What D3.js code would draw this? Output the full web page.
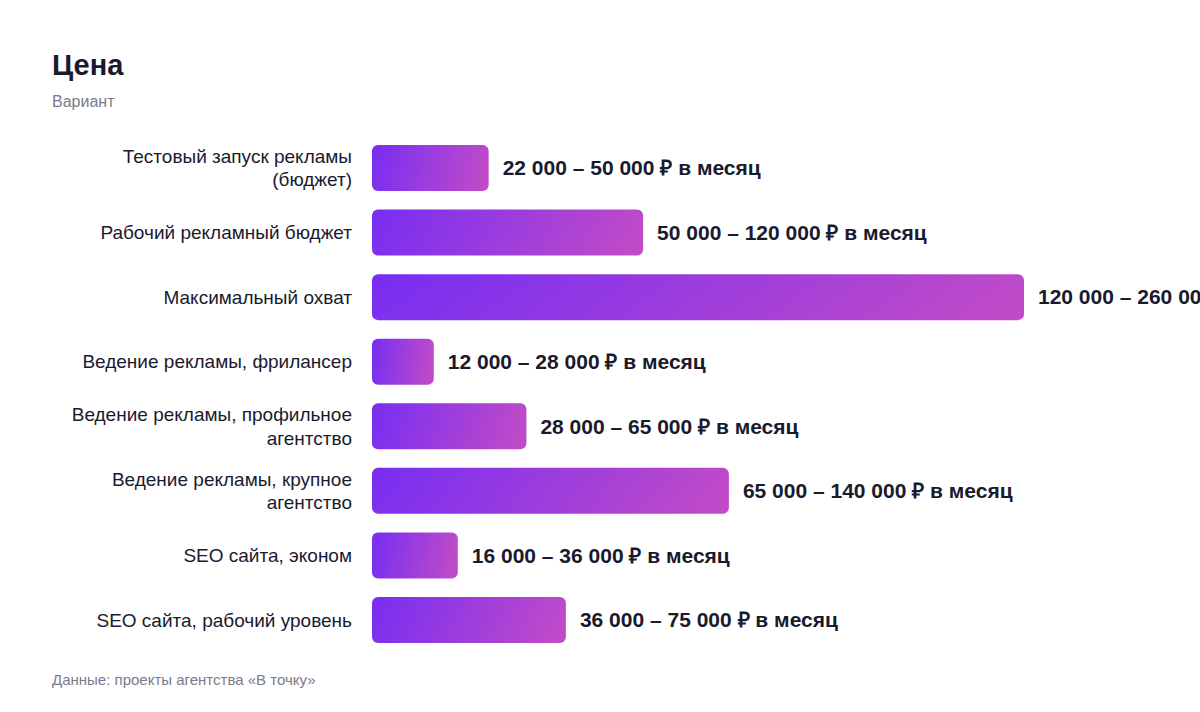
<!DOCTYPE html>
<html>
<head>
<meta charset="utf-8">
<script src="https://cdn.jsdelivr.net/npm/d3@7"></script>
<style>
  body { margin: 0; background: #fff; }
  svg text { font-family: "Liberation Sans", Arial, Helvetica, sans-serif; }
</style>
</head>
<body>
<div id="chart"></div>
<script>
// data
var categories = [
    ["Тестовый запуск рекламы", "(бюджет)"],
    ["Рабочий рекламный бюджет"],
    ["Максимальный охват"],
    ["Ведение рекламы, фрилансер"],
    ["Ведение рекламы, профильное", "агентство"],
    ["Ведение рекламы, крупное", "агентство"],
    ["SEO сайта, эконом"],
    ["SEO сайта, рабочий уровень"]
];
// bar length, thousand ₽
var barValues = [34, 79, 190, 18, 45, 104, 25, 56.5];
var rangeLabels = [
    "22 000 – 50 000 ₽ в месяц",
    "50 000 – 120 000 ₽ в месяц",
    "120 000 – 260 000 ₽ в месяц",
    "12 000 – 28 000 ₽ в месяц",
    "28 000 – 65 000 ₽ в месяц",
    "65 000 – 140 000 ₽ в месяц",
    "16 000 – 36 000 ₽ в месяц",
    "36 000 – 75 000 ₽ в месяц"
];
var title = "Цена";
var subtitle = "Вариант";
var source = "Данные: проекты агентства «В точку»";

function createFoundation(divSelector){
    var width = 1200, height = 712;
    var svg = d3.select(divSelector).append("svg")
        .attr("width", width)
        .attr("height", height);
    return {svg: svg, width: width, height: height};
}

function draw(foundation){
    var svg = foundation.svg;
    var left = 372;

    svg.append("text")
        .attr("x", 52).attr("y", 75)
        .style("font-size", "29px")
        .style("font-weight", "bold")
        .style("fill", "#1a1a2e")
        .text(title);

    svg.append("text")
        .attr("x", 52).attr("y", 107)
        .style("font-size", "16px")
        .style("fill", "#7a7a8c")
        .text(subtitle);

    svg.append("text")
        .attr("x", 52).attr("y", 685)
        .style("font-size", "15px")
        .style("fill", "#7a7a8c")
        .text(source);

    var defs = svg.append("defs");
    var grad = defs.append("linearGradient")
        .attr("id", "barGrad")
        .attr("x1", "0").attr("y1", "0.45")
        .attr("x2", "1").attr("y2", "0.55");
    grad.append("stop").attr("offset", "0%").attr("stop-color", "#7a2ff0");
    grad.append("stop").attr("offset", "100%").attr("stop-color", "#c04bc8");

    var x = d3.scaleLinear()
        .domain([0, 190])
        .range([0, 652]);

    var y = d3.scaleBand()
        .domain(d3.range(categories.length))
        .range([145, 643])
        .paddingInner(0.288)
        .paddingOuter(0);

    var rows = svg.append("g").selectAll("g")
        .data(barValues)
        .enter().append("g")
        .attr("transform", function(d, i){ return "translate(0," + y(i) + ")"; });

    rows.append("rect")
        .attr("x", left)
        .attr("y", 0)
        .attr("width", function(d){ return x(d); })
        .attr("height", y.bandwidth())
        .attr("rx", 6).attr("ry", 6)
        .style("fill", "url(#barGrad)");

    rows.append("text")
        .attr("x", function(d){ return left + x(d) + 14; })
        .attr("y", y.bandwidth() / 2)
        .attr("dy", "0.35em")
        .style("font-size", "21px")
        .style("font-weight", "bold")
        .style("fill", "#1a1a2e")
        .text(function(d, i){ return rangeLabels[i]; });

    var lab = rows.append("text")
        .attr("x", 352)
        .attr("text-anchor", "end")
        .style("font-size", "19px")
        .style("fill", "#1a1a2e");

    lab.each(function(d, i){
        var lines = categories[i];
        var lh = 23.5;
        var start = y.bandwidth() / 2 - (lines.length - 1) * lh / 2;
        var t = d3.select(this);
        lines.forEach(function(line, k){
            t.append("tspan")
                .attr("x", 352)
                .attr("y", start + k * lh)
                .attr("dy", "0.35em")
                .text(line);
        });
    });
}

var foundation = createFoundation("#chart");
draw(foundation);
</script>
</body>
</html>
